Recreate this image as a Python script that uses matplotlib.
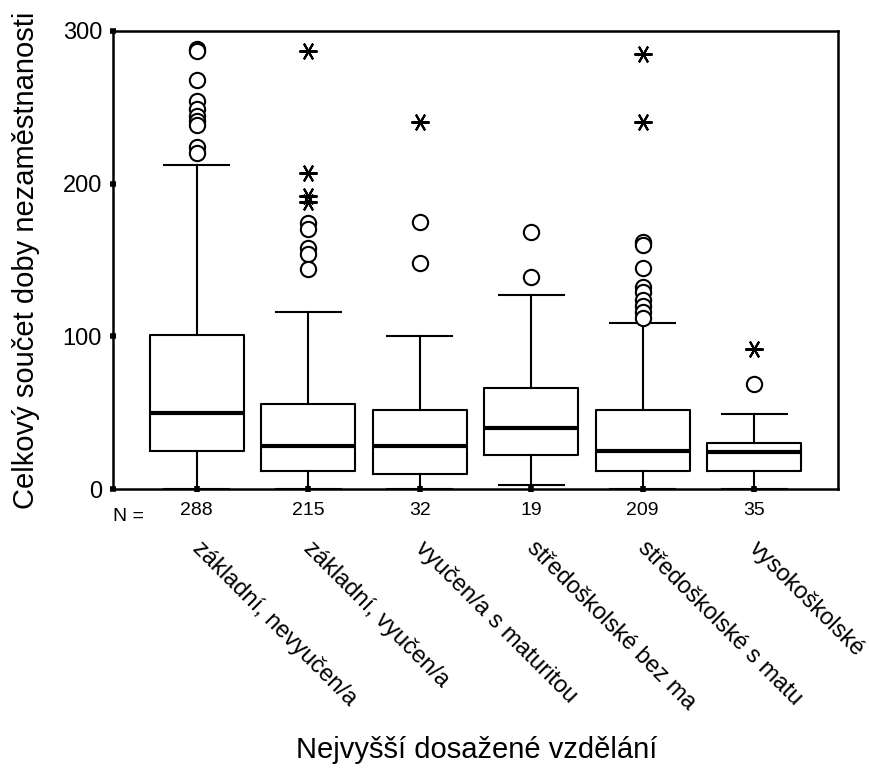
import matplotlib
matplotlib.use("Agg")
import matplotlib.pyplot as plt
import matplotlib.transforms as mtransforms

plt.rcParams['font.family'] = ['Liberation Sans', 'DejaVu Sans']

categories = ["základní, nevyučen/a", "základní, vyučen/a", "vyučen/a s maturitou",
              "středoškolské bez ma", "středoškolské s matu", "vysokoškolské"]
n_counts = [288, 215, 32, 19, 209, 35]
q1 = [25, 12, 10, 22, 12, 12]
medians = [50, 28, 28, 40, 25, 24]
q3 = [101, 56, 52, 66, 52, 30]
whisk_lo = [0, 0, 0, 3, 0, 0]
whisk_hi = [212, 116, 100, 127, 109, 49]
outliers = [
    [288, 287, 268, 254, 249, 244, 241, 238, 224, 220],
    [174, 170, 158, 154, 144],
    [175, 148],
    [168, 139],
    [162, 160, 145, 132, 129, 124, 120, 116, 112],
    [69],
]
extremes = [
    [],
    [287, 207, 192, 188],
    [240],
    [],
    [285, 240],
    [92],
]
y_ticks = [0, 100, 200, 300]

fig = plt.figure(figsize=(8.7, 7.69), dpi=100)
ax = fig.add_axes([0.130, 0.364, 0.833, 0.596])

positions = list(range(len(categories)))
stats = []
for i in positions:
    stats.append(dict(med=medians[i], q1=q1[i], q3=q3[i],
                      whislo=whisk_lo[i], whishi=whisk_hi[i], fliers=[]))

ax.bxp(stats, positions=positions, widths=0.84, showfliers=False,
       boxprops=dict(color='black', linewidth=1.5),
       medianprops=dict(color='black', linewidth=3),
       whiskerprops=dict(color='black', linewidth=1.5),
       capprops=dict(color='black', linewidth=1.5),
       capwidths=0.58)

for i in positions:
    if outliers[i]:
        ax.plot([i] * len(outliers[i]), outliers[i], linestyle='none', marker='o',
                markersize=11, markerfacecolor='white', markeredgecolor='black',
                markeredgewidth=1.5)
    if extremes[i]:
        ax.plot([i] * len(extremes[i]), extremes[i], linestyle='none', marker=(6, 2, 90),
                markersize=13, markeredgecolor='black', color='black',
                markeredgewidth=1.5)

ax.set_xlim(-0.75, len(categories) - 0.25)
ax.set_ylim(0, 300)
ax.set_yticks(y_ticks)
ax.set_yticklabels([str(v) for v in y_ticks], fontsize=17)
ax.set_xticks(positions)
ax.set_xticklabels([str(v) for v in n_counts], fontsize=14)

for sp in ax.spines.values():
    sp.set_linewidth(1.8)

ax.tick_params(axis='both', direction='inout', length=4, width=4, color='black')
ax.tick_params(axis='y', pad=6)
ax.tick_params(axis='x', pad=7)

trans = mtransforms.blended_transform_factory(ax.transData, ax.transAxes)
ax.text(-0.75, -0.041, "N =", transform=trans, fontsize=14, ha='left', va='top')

for i, lab in enumerate(categories):
    ax.text(i + 0.06, -0.105, lab, transform=trans, rotation=-45, rotation_mode='anchor',
            ha='left', va='top', fontsize=17)

ax.set_ylabel("Celkový součet doby nezaměstnanosti", fontsize=21, labelpad=16)
fig.text(0.548, 0.025, "Nejvyšší dosažené vzdělání", fontsize=21, ha='center', va='center')

fig.savefig("out.png", dpi=100)
